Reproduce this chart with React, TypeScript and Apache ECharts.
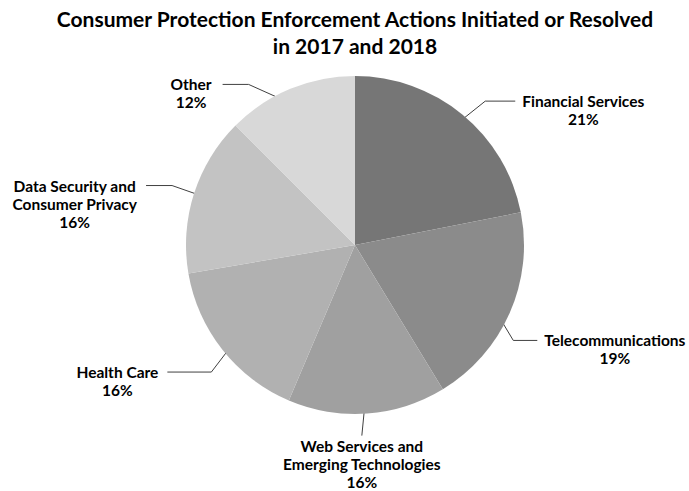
import React, { useEffect, useRef } from 'react';
import * as echarts from 'echarts';

const titleLines = ['Consumer Protection Enforcement Actions Initiated or Resolved', 'in 2017 and 2018'];
const categories = [
  'Financial Services',
  'Telecommunications',
  'Web Services and Emerging Technologies',
  'Health Care',
  'Data Security and Consumer Privacy',
  'Other',
];
const labelRows = [
  ['Financial Services'],
  ['Telecommunications'],
  ['Web Services and', 'Emerging Technologies'],
  ['Health Care'],
  ['Data Security and', 'Consumer Privacy'],
  ['Other'],
];
const sliceShares = [21.9, 19.4, 15.1, 15.9, 15.2, 12.5];
// percentages as printed in the labels
const labelPercents = [21, 19, 16, 16, 16, 12];
const sliceColors = ['#767676', '#8b8b8b', '#a0a0a0', '#b1b1b1', '#c3c3c3', '#d8d8d8'];

// leader-line layout per slice: turn offset from anchor (dx, dy), horizontal run, gap to text
const leaderTurn = [
  [35, -28], [21, 35], [-4, 41], [-26, 34], [-40, -14], [-49, -22],
];
const leaderRun = [30, 24, 0, -44, -26, -26];
const leaderGap = [7, 7, 1, 9, 9, 11];

const FONT = 'Lato';
const LINE_H = 18;

export default function App() {
  const ref = useRef<HTMLDivElement>(null);
  useEffect(() => {
    const chart = echarts.init(ref.current as HTMLDivElement, null, { renderer: 'svg' });
    const cx = 355;
    const cy = 245;
    const R = 169;
    const anchorR = 150;
    chart.setOption({
      animation: false,
      backgroundColor: '#ffffff',
      title: {
        text: titleLines.join('\n'),
        left: 355,
        top: 5,
        padding: 0,
        textAlign: 'center',
        textStyle: {
          fontFamily: FONT,
          fontWeight: 'bold',
          fontSize: 21,
          lineHeight: 27,
          color: '#000000',
        },
      },
      series: [
        {
          type: 'pie',
          center: [cx, cy],
          radius: R,
          startAngle: 90,
          clockwise: true,
          avoidLabelOverlap: false,
          emphasis: { disabled: true },
          itemStyle: { borderWidth: 0 },
          data: categories.map((c, i) => ({
            name: c,
            value: sliceShares[i],
            itemStyle: { color: sliceColors[i] },
          })),
          label: {
            show: true,
            position: 'outside',
            formatter: (p: any) =>
              labelRows[p.dataIndex].map((r) => `{t|${r}}`).join('\n') +
              `\n{t|${labelPercents[p.dataIndex]}%}`,
            rich: {
              t: {
                align: 'center',
                fontFamily: FONT,
                fontWeight: 'bold',
                fontSize: 15.5,
                lineHeight: LINE_H,
                color: '#000000',
              },
            },
          },
          labelLine: {
            show: true,
            length: 2,
            length2: 2,
            lineStyle: { color: '#404040', width: 1 },
          },
          labelLayout: (params: any) => {
            const i = params.dataIndex;
            const p0 = params.labelLinePoints && params.labelLinePoints[0];
            let sx: number;
            let sy: number;
            if (p0) {
              const d = Math.hypot(p0[0] - cx, p0[1] - cy) || 1;
              sx = cx + ((p0[0] - cx) * anchorR) / d;
              sy = cy + ((p0[1] - cy) * anchorR) / d;
            } else {
              const total = sliceShares.reduce((a, b) => a + b, 0);
              const before = sliceShares.slice(0, i).reduce((a, b) => a + b, 0);
              const ang = ((before + sliceShares[i] / 2) / total) * Math.PI * 2;
              sx = cx + anchorR * Math.sin(ang);
              sy = cy - anchorR * Math.cos(ang);
            }
            const tx = sx + leaderTurn[i][0];
            const ty = sy + leaderTurn[i][1];
            const run = leaderRun[i];
            const ex = tx + run;
            const ey = ty;
            const points = run === 0 ? [[sx, sy], [tx, ty]] : [[sx, sy], [tx, ty], [ex, ey]];
            if (run === 0) {
              return {
                x: ex,
                y: ey + leaderGap[i],
                align: 'center',
                verticalAlign: 'top',
                labelLinePoints: points,
              };
            }
            return {
              x: run > 0 ? ex + leaderGap[i] : ex - leaderGap[i],
              y: ey - LINE_H / 2,
              align: run > 0 ? 'left' : 'right',
              verticalAlign: 'top',
              labelLinePoints: points,
            };
          },
        },
      ],
    });
    return () => chart.dispose();
  }, []);
  return (
    <div
      ref={ref}
      style={{ position: 'fixed', left: 0, top: 0, width: 689, height: 491, background: '#fff' }}
    />
  );
}
